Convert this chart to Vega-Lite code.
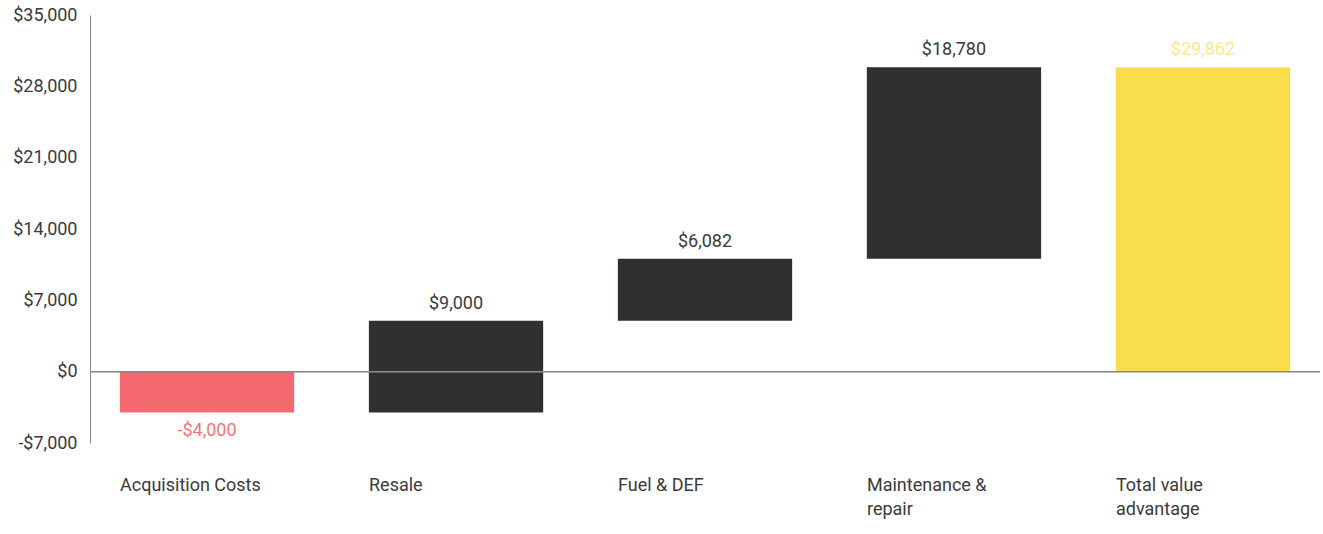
{
  "$schema": "https://vega.github.io/schema/vega-lite/v6.json",
  "width": 1230,
  "height": 428,
  "autosize": {"type": "none"},
  "padding": {"left": 90, "top": 15, "right": 3, "bottom": 91},
  "background": "white",
  "config": {
    "view": {"stroke": null},
    "font": "Roboto",
    "axis": {"grid": false, "labelFont": "Roboto", "labelFontSize": 18, "labelColor": "#3a3a3a"}
  },
  "data": {
    "values": [
      {"category": "Acquisition Costs", "start": 0, "end": -4000, "value": -4000, "label": "-$4,000", "kind": "cost"},
      {"category": "Resale", "start": -4000, "end": 5000, "value": 9000, "label": "$9,000", "kind": "saving"},
      {"category": "Fuel & DEF", "start": 5000, "end": 11082, "value": 6082, "label": "$6,082", "kind": "saving"},
      {"category": "Maintenance & repair", "start": 11082, "end": 29862, "value": 18780, "label": "$18,780", "kind": "saving"},
      {"category": "Total value advantage", "start": 0, "end": 29862, "value": 29862, "label": "$29,862", "kind": "total"}
    ]
  },
  "encoding": {
    "x": {
      "field": "category",
      "type": "nominal",
      "sort": null,
      "scale": {"paddingInner": 0.3, "paddingOuter": 0.12},
      "axis": {
        "title": null,
        "orient": "bottom",
        "domain": false,
        "ticks": false,
        "labelAngle": 0,
        "labelOffset": -87,
        "labelAlign": "left",
        "labelBaseline": "top",
        "labelPadding": 33,
        "labelLineHeight": 24,
        "labelExpr": "datum.value == 'Maintenance & repair' ? ['Maintenance &', 'repair'] : datum.value == 'Total value advantage' ? ['Total value', 'advantage'] : datum.value"
      }
    }
  },
  "layer": [
    {
      "mark": {"type": "bar"},
      "encoding": {
        "y": {
          "field": "start",
          "type": "quantitative",
          "scale": {"domain": [-7000, 35000], "nice": false, "zero": false},
          "axis": {
            "title": null,
            "values": [-7000, 0, 7000, 14000, 21000, 28000, 35000],
            "labelExpr": "datum.value < 0 ? '-$' + format(-datum.value, ',') : '$' + format(datum.value, ',')",
            "ticks": false,
            "domain": true,
            "domainColor": "#8a8a8a",
            "labelPadding": 13
          }
        },
        "y2": {"field": "end"},
        "color": {
          "field": "kind",
          "type": "nominal",
          "scale": {"domain": ["cost", "saving", "total"], "range": ["#f4696f", "#2e312e", "#f8de4c"]},
          "legend": null
        }
      }
    },
    {
      "mark": {"type": "rule", "color": "#8a8a8a", "strokeWidth": 1},
      "encoding": {"y": {"datum": 0, "type": "quantitative"}, "x": {"value": 0}, "x2": {"value": 1230}}
    },
    {
      "transform": [{"filter": "datum.value >= 0"}],
      "mark": {"type": "text", "baseline": "bottom", "dy": -8, "fontSize": 18},
      "encoding": {
        "y": {"field": "end", "type": "quantitative"},
        "text": {"field": "label"},
        "color": {
          "field": "kind",
          "type": "nominal",
          "scale": {"domain": ["cost", "saving", "total"], "range": ["#f0767c", "#3a3a3a", "#f6e88e"]},
          "legend": null
        }
      }
    },
    {
      "transform": [{"filter": "datum.value < 0"}],
      "mark": {"type": "text", "baseline": "top", "dy": 10, "fontSize": 18, "color": "#f0767c"},
      "encoding": {
        "y": {"field": "end", "type": "quantitative"},
        "text": {"field": "label"}
      }
    }
  ],
  "resolve": {"scale": {"color": "independent"}}
}
